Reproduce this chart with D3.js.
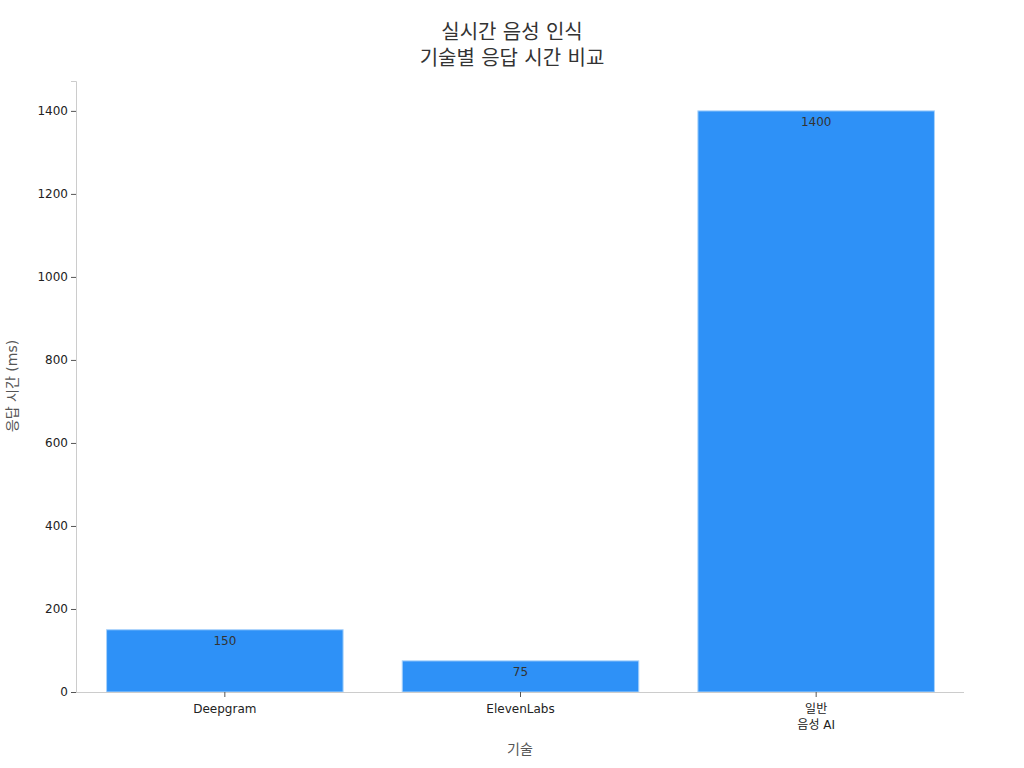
<!DOCTYPE html>
<html><head><meta charset="utf-8">
<script src="https://cdn.jsdelivr.net/npm/d3@7"></script>
<style>body{margin:0;background:#fff;} text{font-family:"DejaVu Sans","Noto Sans CJK KR",sans-serif;}</style>
</head><body>
<svg id="c" width="1024" height="768"></svg>
<script>
const categories = [["Deepgram"], ["ElevenLabs"], ["일반", "음성 AI"]];
const values = [150, 75, 1400];
const yTicks = [0, 200, 400, 600, 800, 1000, 1200, 1400];
const titleLines = ["실시간 음성 인식", "기술별 응답 시간 비교"];

(function(){
const svg = d3.select("#c");
const mLeft = 76, mRight = 963, mTop = 81, mBottom = 692;
const x = d3.scaleBand().domain(categories.map((d,i)=>i)).range([mLeft, mRight]).paddingInner(0.2).paddingOuter(0.1);
const y = d3.scaleLinear().domain([0, 1472]).range([mBottom, mTop]);

svg.selectAll("rect.bar").data(values).enter().append("rect")
  .attr("x", (d,i)=>x(i)+1).attr("width", x.bandwidth())
  .attr("y", d=>y(d)).attr("height", d=>mBottom - y(d))
  .attr("fill", "#2e91f7").attr("stroke", "#a8d2fb").attr("stroke-width", 1);

svg.selectAll("text.val").data(values).enter().append("text")
  .attr("x", (d,i)=>x(i)+1+x.bandwidth()/2).attr("y", d=>y(d)+15)
  .attr("text-anchor","middle").attr("font-size",12).attr("fill","#333")
  .text(d=>d);

const yAxis = svg.append("g").attr("transform",`translate(${mLeft},0)`)
  .call(d3.axisLeft(y).tickValues(yTicks).tickFormat(d3.format("d")).tickSize(5).tickPadding(3));
yAxis.select(".domain").attr("stroke","#ccc");
yAxis.selectAll(".tick line").attr("stroke","#555");
yAxis.selectAll(".tick text").attr("font-size",12).attr("fill","#222").style("font-family",'"DejaVu Sans",sans-serif');

const xAxis = svg.append("g").attr("transform",`translate(1,${mBottom})`)
  .call(d3.axisBottom(x).tickSize(5).tickFormat(()=>""));
xAxis.select(".domain").attr("stroke","#ccc").attr("d",`M${mLeft-1},0.5H${mRight}`);
xAxis.selectAll(".tick line").attr("stroke","#555");
xAxis.selectAll(".tick").each(function(d){
  const t = d3.select(this).append("text").attr("text-anchor","middle").attr("font-size",12).attr("fill","#222");
  categories[d].forEach((line,j)=>t.append("tspan").attr("x",0).attr("y",21+j*16).text(line));
});

const tt = svg.append("text").attr("text-anchor","middle").attr("font-size",20).attr("fill","#333");
titleLines.forEach((l,i)=>tt.append("tspan").attr("x",512).attr("y",39+i*26).text(l));

svg.append("text").attr("x",520).attr("y",754).attr("text-anchor","middle").attr("font-size",14).attr("fill","#555").text("기술");
svg.append("text").attr("transform","translate(17,386) rotate(-90)").attr("text-anchor","middle").attr("font-size",14).attr("fill","#555").text("응답 시간 (ms)");
})();
</script>
</body></html>
